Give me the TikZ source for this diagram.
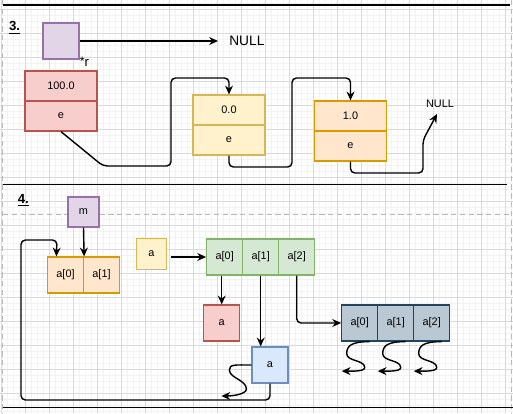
\documentclass[tikz,border=0pt]{standalone}
\usepackage{fontspec}
\setmainfont{Liberation Sans}
\usetikzlibrary{arrows.meta}

\definecolor{gridmaj}{HTML}{DADADA}
\definecolor{gridmin}{HTML}{F3F3F3}
\definecolor{purpfill}{HTML}{E1D5E7}
\definecolor{purpline}{HTML}{9673A6}
\definecolor{redfill}{HTML}{F8CECC}
\definecolor{redline}{HTML}{B85450}
\definecolor{yelfill}{HTML}{FFF2CC}
\definecolor{yelline}{HTML}{D6B656}
\definecolor{orafill}{HTML}{FFE6CC}
\definecolor{oraline}{HTML}{D79B00}
\definecolor{grnfill}{HTML}{D5E8D4}
\definecolor{grnline}{HTML}{82B366}
\definecolor{blufill}{HTML}{DAE8FC}
\definecolor{bluline}{HTML}{6C8EBF}
\definecolor{gryfill}{HTML}{BAC8D3}
\definecolor{gryline}{HTML}{23445D}

\tikzset{
	cell/.style={draw, line width=0.7pt, minimum width=0.72cm, minimum height=0.72cm,
		inner sep=0pt, font=\fontsize{6.2}{7}\selectfont},
	half/.style={cell, minimum width=1.44cm, minimum height=0.6cm},
	purp/.style={fill=purpfill, draw=purpline},
	redc/.style={fill=redfill, draw=redline},
	yelc/.style={fill=yelfill, draw=yelline},
	orac/.style={fill=orafill, draw=oraline},
	grnc/.style={fill=grnfill, draw=grnline},
	bluc/.style={fill=blufill, draw=bluline},
	gryc/.style={fill=gryfill, draw=gryline},
	link/.style={line width=0.8pt, rounded corners=2.5pt, -{Stealth[length=5pt,width=4.5pt]}},
	curl/.style={line width=0.8pt, sharp corners, -{Stealth[length=5pt,width=4.5pt]}},
	sepline/.style={line width=1.1pt},
	frameline/.style={draw=gridmaj!85!black, line width=0.8pt, dash pattern=on 3pt off 2pt},
	title/.style={font=\fontsize{7.5}{9}\selectfont\bfseries}
}

\begin{document}
\begin{tikzpicture}[x=0.02cm, y=-0.02cm]

	\useasboundingbox (0,0) rectangle (513,413);
	\fill[white] (0,0) rectangle (513,413);

	% grid
	\foreach \g in {1.3,7.3,...,511.3}
	{
		\draw[gridmin, line width=0.4pt] (\g,0) -- (\g,413);
	};
	\foreach \g in {3.3,9.3,...,411.3}
	{
		\draw[gridmin, line width=0.4pt] (0,\g) -- (513,\g);
	};
	\foreach \g in {1.3,25.3,...,505.3}
	{
		\draw[gridmaj, line width=0.6pt] (\g,0) -- (\g,413);
	};
	\foreach \g in {9.3,33.3,...,405.3}
	{
		\draw[gridmaj, line width=0.6pt] (0,\g) -- (513,\g);
	};

	\draw[frameline] (2.7,0) -- (2.7,413);
	\draw[frameline] (511.5,0) -- (511.5,413);
	\draw[frameline] (3,214.3) -- (510,214.3);

	\draw[sepline] (3,5) -- (510,5);
	\draw[sepline] (3,184.5) -- (507,184.5);
	\draw[sepline] (3,407.5) -- (513,407.5);

	% part 3
	\node[title] (t3) at (14.5,28) {\underline{3.}};

	\node[cell, purp] (rptr) at (61,41) {};
	\node[font=\fontsize{7.5}{8}\selectfont, inner sep=0pt] (rlab) at (84.5,61.5) {\raisebox{0.5pt}{\scriptsize*}r};
	\node[font=\fontsize{7.8}{9}\selectfont, inner sep=0pt, anchor=west] (null1) at (229,41) {NULL};

	\node[half, redc] (r3v) at (61,86) {100.0};
	\node[half, redc] (r3e) at (61,116) {e};
	\node[half, yelc] (y3v) at (229,110) {0.0};
	\node[half, yelc] (y3e) at (229,140) {e};
	\node[half, orac] (o3v) at (350.5,116) {1.0};
	\node[half, orac] (o3e) at (350.5,146) {e};

	\node[font=\fontsize{6.2}{7}\selectfont, inner sep=0pt] (null2) at (440,103.5) {NULL};
	\coordinate (n2tip) at (437,114);

	\draw[link, shorten >=0.22cm] (rptr.east) -- (null1.west);
	\draw[link] (r3e.south) -- (103,166) -- (171,166) |- (229,78) -- (y3v.north);
	\draw[link] (y3e.south) |- (292,167) |- (350.5,78) -- (o3v.north);
	\draw[link] (o3e.south) |- (423,173) -- (423,140) -- (n2tip);

	% part 4
	\node[title] (t4) at (23.3,200.5) {\underline{4.}};

	\node[cell, purp, minimum width=0.62cm, minimum height=0.6cm] (m) at (83.5,212) {m};
	\node[cell, orac] (oa0) at (65.5,275) {a[0]};
	\node[cell, orac] (oa1) at (101.5,275) {a[1]};

	\node[cell, yelc, minimum width=0.61cm, minimum height=0.61cm] (ya) at (151.5,254) {a};

	\foreach \i in {0,1,2}
	{
		\node[cell, grnc] (ga\i) at (224.7+36*\i,257) {a[\i]};
		\node[cell, gryc] (gc\i) at (359.7+36*\i,323) {a[\i]};
	};

	\node[cell, redc] (ra) at (221.7,323) {a};
	\node[cell, bluc] (ba) at (270,365) {a};

	\draw[link] (m.south) -- (oa0.north east);
	\draw[link, shorten <=0.08cm] (ga0.west -| ya.east) -- (ga0.west);
	\draw[link] (ra.north |- ga0.south) -- (ra.north);
	\draw[link] (ga1.south) -- (ga1.south |- ba.north);
	\draw[link] (ga2.south) |- (gc0.west);
	\draw[link] (ba.south) |- (21,400) |- (57,240) -- ([xshift=0.19cm]oa0.north west);

	\foreach \i in {0,1,2}
	{
		\coordinate (tip\i) at ([shift={(-18,29.5)}]gc\i.south);
		\draw[curl] ([xshift=0.2cm]gc\i.south) .. controls +(-18,0) and +(0,-8) .. ++(-23,12)
			.. controls +(0,8) and +(0,-8) .. ++(18,14)
			.. controls +(0,4) and +(10,0) .. (tip\i);
	};

	\coordinate (tipb) at ([shift={(-30,31)}]ba.west);
	\draw[curl] (ba.west) .. controls +(-16,0) and +(0,-6) .. ++(-22,5)
		.. controls +(0,8) and +(0,-9) .. ++(17,19)
		.. controls +(0,5) and +(12,0) .. (tipb);

\end{tikzpicture}
\end{document}
